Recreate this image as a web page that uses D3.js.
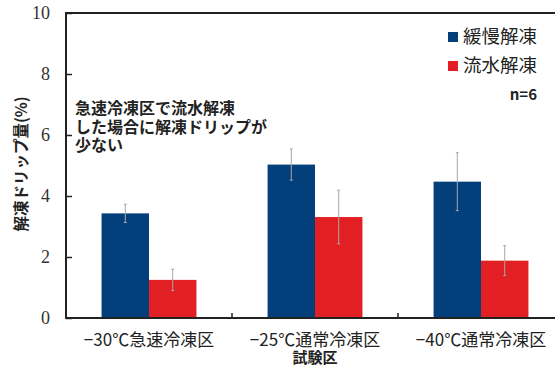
<!DOCTYPE html>
<meta charset="utf-8">
<script src="https://d3js.org/d3.v7.min.js"></script>
<style>
  body { margin: 0; background: #fff; }
  text { font-family: "Noto Sans CJK JP", "Noto Sans", sans-serif; }
</style>
<body>
<div id="my_dataviz"></div>
<script>

// data
var groups = ["−30℃急速冷凍区", "−25℃通常冷凍区", "−40℃通常冷凍区"]
var series = ["緩慢解凍", "流水解凍"]
var slowMean = [3.43, 5.03, 4.47]
var slowErr  = [0.30, 0.51, 0.95]
var waterMean = [1.25, 3.31, 1.88]
var waterErr  = [0.35, 0.88, 0.49]
var yTicks = [0, 2, 4, 6, 8, 10]

var width = 555, height = 367
var plotL = 66, plotR = 564, plotT = 13, plotB = 318

var svg = d3.select("#my_dataviz")
  .append("svg")
    .attr("width", width)
    .attr("height", height)

var data = groups.map(function(g, i) {
  return [
    {group: g, key: series[0], value: slowMean[i], err: slowErr[i]},
    {group: g, key: series[1], value: waterMean[i], err: waterErr[i]}
  ]
})

var x = d3.scaleBand()
  .domain(groups)
  .range([plotL, plotR])
  .padding(0)

var x1 = d3.scaleBand()
  .domain(series)
  .range([0, x.bandwidth()])
  .paddingInner(0)
  .paddingOuter(0.75)

var y = d3.scaleLinear()
  .domain([0, 10])
  .range([plotB, plotT])

var color = d3.scaleOrdinal()
  .domain(series)
  .range(["#033f7a", "#e21f22"])

// bars
var g = svg.append("g")
  .selectAll("g")
  .data(data)
  .enter().append("g")
    .attr("transform", function(d) { return "translate(" + x(d[0].group) + ",0)" })

g.selectAll("rect")
  .data(function(d) { return d })
  .enter().append("rect")
    .attr("x", function(d) { return x1(d.key) })
    .attr("y", function(d) { return y(d.value) })
    .attr("width", x1.bandwidth())
    .attr("height", function(d) { return y(0) - y(d.value) })
    .attr("fill", function(d) { return color(d.key) })

// error bars
var eb = g.selectAll("g.err")
  .data(function(d) { return d })
  .enter().append("g")
    .attr("class", "err")
    .attr("stroke", "#a8a8a8")
    .attr("stroke-width", 1)

function cx(d) { return x1(d.key) + x1.bandwidth() / 2 }

eb.append("line")
  .attr("x1", cx)
  .attr("x2", cx)
  .attr("y1", function(d) { return y(d.value + d.err) })
  .attr("y2", function(d) { return y(d.value - d.err) })
eb.append("line")
  .attr("x1", function(d) { return cx(d) - 1.5 })
  .attr("x2", function(d) { return cx(d) + 1.5 })
  .attr("y1", function(d) { return y(d.value + d.err) })
  .attr("y2", function(d) { return y(d.value + d.err) })
eb.append("line")
  .attr("x1", function(d) { return cx(d) - 1.5 })
  .attr("x2", function(d) { return cx(d) + 1.5 })
  .attr("y1", function(d) { return y(d.value - d.err) })
  .attr("y2", function(d) { return y(d.value - d.err) })

// frame
svg.append("path")
  .attr("d", "M" + plotR + "," + plotT + "H" + plotL + "V" + plotB + "H" + plotR)
  .attr("fill", "none")
  .attr("stroke", "#222")
  .attr("stroke-width", 2)

// y axis (ticks inside)
var yAxis = svg.append("g")
  .attr("transform", "translate(" + plotL + ",0)")
  .call(d3.axisRight(y).tickValues(yTicks).tickSize(6).tickFormat(""))
yAxis.select(".domain").remove()
yAxis.selectAll("line").attr("stroke", "#222").attr("stroke-width", 1.5)

svg.append("g").selectAll("text")
  .data(yTicks)
  .enter().append("text")
    .attr("x", 50)
    .attr("y", function(d) { return y(d) })
    .attr("dy", "0.35em")
    .attr("text-anchor", "end")
    .style("font-family", "'Liberation Serif', serif")
    .style("font-size", "18px")
    .attr("fill", "#333")
    .text(function(d) { return d })

// x ticks between groups (inside)
svg.append("g").selectAll("line")
  .data(groups.slice(1))
  .enter().append("line")
    .attr("x1", function(d) { return x(d) })
    .attr("x2", function(d) { return x(d) })
    .attr("y1", plotB)
    .attr("y2", plotB - 5)
    .attr("stroke", "#222")
    .attr("stroke-width", 1.5)

// category labels
svg.append("g").selectAll("text")
  .data(groups)
  .enter().append("text")
    .attr("x", function(d) { return x(d) + x.bandwidth() / 2 })
    .attr("y", 346)
    .attr("text-anchor", "middle")
    .style("font-size", "17px")
    .attr("fill", "#222")
    .text(function(d) { return d })

svg.append("text")
  .attr("x", x(groups[1]) + x.bandwidth() / 2)
  .attr("y", 363)
  .attr("text-anchor", "middle")
  .style("font-size", "15px")
  .style("font-weight", "bold")
  .attr("fill", "#222")
  .text("試験区")

// y title
svg.append("text")
  .attr("transform", "translate(22,164) rotate(-90)")
  .attr("text-anchor", "middle")
  .attr("dy", "0.35em")
  .style("font-size", "15.5px")
  .style("font-weight", "bold")
  .attr("fill", "#222")
  .text("解凍ドリップ量(%)")

// legend
var leg = svg.append("g").selectAll("g")
  .data(series)
  .enter().append("g")
    .attr("transform", function(d, i) { return "translate(448," + (37 + i * 29) + ")" })
leg.append("rect")
  .attr("y", -5)
  .attr("width", 10)
  .attr("height", 10)
  .attr("fill", function(d) { return color(d) })
leg.append("text")
  .attr("x", 15)
  .attr("dy", "0.35em")
  .style("font-size", "18.5px")
  .attr("fill", "#222")
  .text(function(d) { return d })

svg.append("text")
  .attr("x", 537)
  .attr("y", 100)
  .attr("text-anchor", "end")
  .style("font-size", "15px")
  .style("font-weight", "bold")
  .attr("fill", "#222")
  .text("n=6")

// annotation
var note = ["急速冷凍区で流水解凍", "した場合に解凍ドリップが", "少ない"]
svg.append("text")
  .style("font-size", "16px")
  .style("font-weight", "bold")
  .attr("fill", "#222")
  .selectAll("tspan")
  .data(note)
  .enter().append("tspan")
    .attr("x", 75)
    .attr("y", function(d, i) { return 114 + i * 18.5 })
    .text(function(d) { return d })

</script>
</body>
